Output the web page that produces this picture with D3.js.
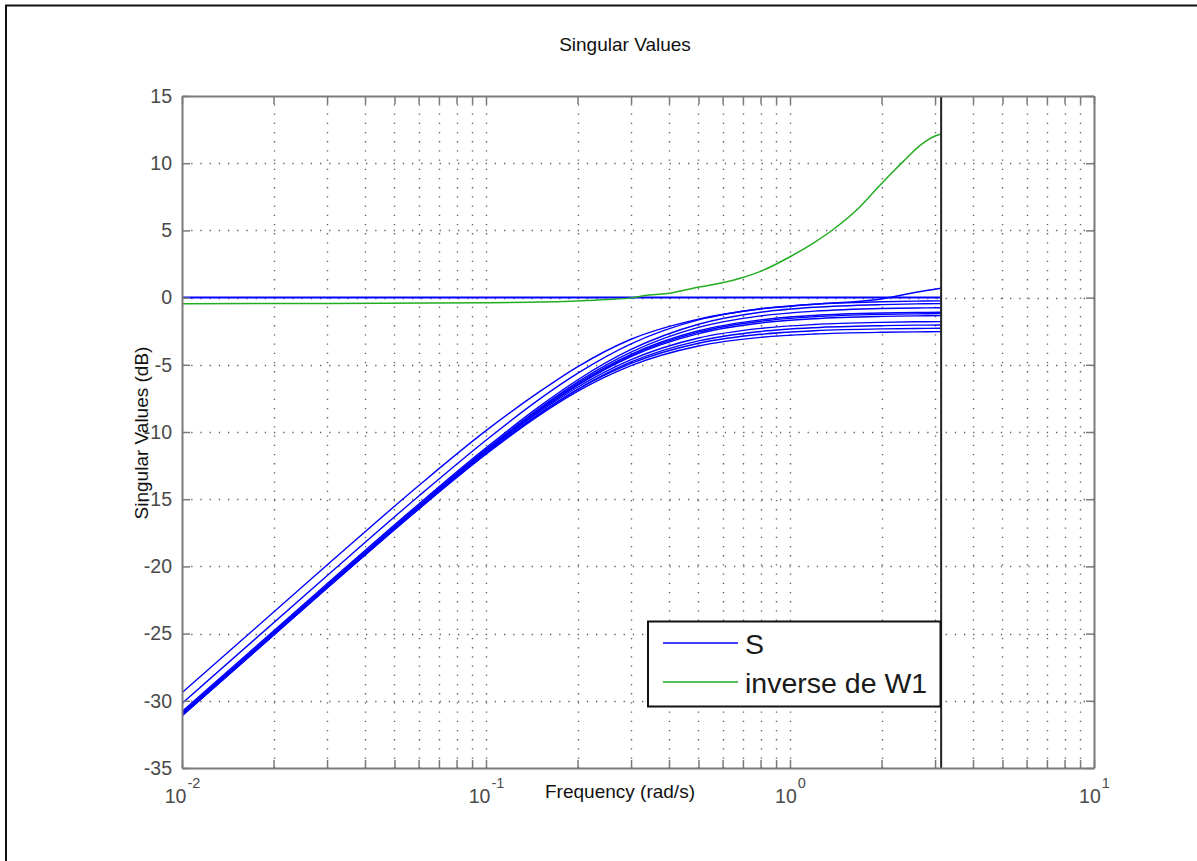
<!DOCTYPE html>
<html>
<head>
<meta charset="utf-8">
<script src="https://cdn.jsdelivr.net/npm/d3@7"></script>
<style>
  html, body { margin: 0; padding: 0; background: #fff; }
  svg { display: block; font-family: "Liberation Sans", Arial, Helvetica, sans-serif; }
</style>
</head>
<body>
<svg id="chart" width="1197" height="861"></svg>
<script>
// Frequency grid (rad/s) for the sensitivity singular values
const freqS = [0.01, 0.03, 0.06, 0.1, 0.15, 0.2, 0.3, 0.5, 0.8, 1.2, 2, 2.6, 3.1416];

// Singular values of S (dB), one array per curve
const sFlat = [0, 0, 0, 0, 0, 0, 0, 0, 0, 0, 0, 0, 0];
const s1  = [-29.4, -19.9, -14.0, -9.9, -7.0, -5.15, -3.1, -1.6, -0.85, -0.5, -0.1, 0.4, 0.7];
const s2  = [-30.2, -20.69, -14.78, -10.61, -7.55, -5.64, -3.44, -1.66, -0.83, -0.49, -0.31, -0.26, -0.24];
const s3  = [-30.8, -21.29, -15.37, -11.18, -8.09, -6.13, -3.86, -1.98, -1.09, -0.72, -0.52, -0.47, -0.45];
const s4  = [-30.92, -21.41, -15.5, -11.31, -8.23, -6.29, -4.06, -2.22, -1.36, -1.01, -0.81, -0.77, -0.75];
const s5  = [-30.91, -21.4, -15.5, -11.33, -8.29, -6.39, -4.22, -2.47, -1.66, -1.33, -1.15, -1.11, -1.09];
const s6  = [-31.01, -21.5, -15.6, -11.43, -8.39, -6.49, -4.32, -2.57, -1.76, -1.43, -1.25, -1.21, -1.19];
const s7  = [-31.0, -21.5, -15.6, -11.44, -8.42, -6.53, -4.39, -2.68, -1.89, -1.57, -1.4, -1.36, -1.34];
const s8  = [-31.0, -21.5, -15.62, -11.49, -8.51, -6.67, -4.62, -3.01, -2.29, -2.0, -1.84, -1.8, -1.79];
const s9  = [-31.1, -21.6, -15.72, -11.6, -8.64, -6.82, -4.79, -3.22, -2.52, -2.24, -2.09, -2.05, -2.04];
const s10 = [-31.1, -21.6, -15.72, -11.6, -8.65, -6.85, -4.9, -3.4, -2.73, -2.47, -2.33, -2.3, -2.28];
const s11 = [-31.1, -21.61, -15.74, -11.66, -8.75, -6.98, -5.06, -3.6, -2.96, -2.71, -2.58, -2.55, -2.53];
const sCurves = [sFlat, s1, s2, s3, s4, s5, s6, s7, s8, s9, s10, s11];

// Inverse of the performance weight W1
const freqW = [0.01, 0.03, 0.1, 0.2, 0.25, 0.3, 0.333, 0.394, 0.48, 0.589, 0.7, 0.796, 1.0, 1.19, 1.38, 1.7, 1.98, 2.21, 2.35, 2.74, 3.07, 3.1416];
const invW1 = [-0.45, -0.44, -0.38, -0.25, -0.15, -0.02, 0.15, 0.3, 0.7, 1.06, 1.5, 1.93, 3.04, 4.04, 5.03, 6.76, 8.38, 9.5, 10.1, 11.5, 12.1, 12.15];

const nyquist = 3.1416;

// Axis ticks
const yTicks = [15, 10, 5, 0, -5, -10, -15, -20, -25, -30, -35];
const xDecades = [0.01, 0.1, 1, 10];
const xExponents = ["-2", "-1", "0", "1"];
const legendLabels = ["S", "inverse de W1"];
const colors = { s: "#0000ff", w: "#22ad22" };

const svg = d3.select("#chart");
const L = 182, R = 1094, T = 96, B = 768;

const x = d3.scaleLog().domain([0.01, 10]).range([L, R]);
const y = d3.scaleLinear().domain([-35, 15]).range([B, T]);

// Minor tick positions on the log axis
const xMinor = [];
for (let d = 0; d < xDecades.length - 1; d++) {
  for (let k = 1; k <= 9; k++) xMinor.push(xDecades[d] * k);
}
xMinor.push(10);

// Outer figure frame
svg.append("path")
  .attr("d", "M6,861 L6,5.5 L1197,5.5")
  .attr("fill", "none").attr("stroke", "#111").attr("stroke-width", 2);

// Dotted grid
const grid = svg.append("g").attr("stroke", "#5f5f5f").attr("stroke-width", 1.4)
  .attr("stroke-dasharray", "1.3,7.9");
grid.selectAll("line.v").data(xMinor.filter(v => v > 0.01 && v < 10)).enter().append("line")
  .attr("x1", d => Math.round(x(d)) + 0.5).attr("x2", d => Math.round(x(d)) + 0.5)
  .attr("y1", B).attr("y2", T);
grid.selectAll("line.h").data(yTicks.filter(v => v > -35 && v < 15)).enter().append("line")
  .attr("y1", d => Math.round(y(d)) + 0.5).attr("y2", d => Math.round(y(d)) + 0.5)
  .attr("x1", L).attr("x2", R);

// Curves
svg.append("clipPath").attr("id", "plotclip").append("rect")
  .attr("x", L).attr("y", T).attr("width", R - L).attr("height", B - T);
const plot = svg.append("g").attr("clip-path", "url(#plotclip)");

const line = d3.line().x(d => x(d[0])).y(d => y(d[1])).curve(d3.curveMonotoneX);

plot.selectAll("path.s").data(sCurves).enter().append("path")
  .attr("class", "s")
  .attr("d", c => line(freqS.map((f, i) => [f, c[i]])))
  .attr("fill", "none").attr("stroke", colors.s)
  .attr("stroke-width", (c, i) => i === 0 ? 2 : 1.4);

plot.append("path")
  .attr("d", line(freqW.map((f, i) => [f, invW1[i]])))
  .attr("fill", "none").attr("stroke", colors.w).attr("stroke-width", 1.5);

// Nyquist frequency marker
svg.append("line")
  .attr("x1", x(nyquist)).attr("x2", x(nyquist)).attr("y1", T).attr("y2", B)
  .attr("stroke", "#222").attr("stroke-width", 2);

// Axes (ticks pointing inward)
const axisColor = "#7a7a7a";
const labelColor = "#4a4a4a";
function styleAxis(g) {
  g.select(".domain").attr("stroke", axisColor).attr("stroke-width", 2);
  g.selectAll(".tick line").attr("stroke", axisColor).attr("stroke-width", 1.5);
}

svg.append("g").attr("transform", `translate(${L},0)`)
  .call(d3.axisLeft(y).tickValues(yTicks).tickSize(-8).tickSizeOuter(0).tickPadding(10).tickFormat(d => String(d)))
  .call(styleAxis)
  .call(g => g.selectAll(".tick text").attr("fill", labelColor).attr("font-size", 19.5)
    .attr("font-family", "Liberation Sans, Arial, sans-serif"));

svg.append("g").attr("transform", `translate(${R},0)`)
  .call(d3.axisRight(y).tickValues(yTicks).tickSize(-8).tickSizeOuter(0).tickFormat(""))
  .call(styleAxis);

svg.append("g").attr("transform", `translate(0,${B})`)
  .call(d3.axisBottom(x).tickValues(xMinor).tickSize(-8).tickSizeOuter(0).tickFormat(""))
  .call(styleAxis);

svg.append("g").attr("transform", `translate(0,${T})`)
  .call(d3.axisTop(x).tickValues(xMinor).tickSize(-8).tickSizeOuter(0).tickFormat(""))
  .call(styleAxis);

// Decade labels 10^n
const xl = svg.append("g").attr("fill", labelColor);
xDecades.forEach((v, i) => {
  const g = xl.append("g");
  const base = g.append("text").attr("font-size", 19.5).attr("y", 803).text("10");
  const ex = g.append("text").attr("font-size", 14.5).attr("y", 788).text(xExponents[i]);
  const wb = base.node().getComputedTextLength();
  const we = ex.node().getComputedTextLength();
  const x0 = x(v) - (wb + we) / 2;
  base.attr("x", x0);
  ex.attr("x", x0 + wb + 1);
});

// Titles
svg.append("text").attr("x", 625).attr("y", 51).attr("text-anchor", "middle")
  .attr("font-size", 19).attr("fill", "#111").text("Singular Values");
svg.append("text").attr("x", 620).attr("y", 798).attr("text-anchor", "middle")
  .attr("font-size", 19).attr("fill", "#111").text("Frequency (rad/s)");
svg.append("text").attr("transform", "translate(148,433) rotate(-90)").attr("text-anchor", "middle")
  .attr("font-size", 19).attr("fill", "#111").text("Singular Values (dB)");

// Legend
const lg = svg.append("g");
lg.append("rect").attr("x", 648).attr("y", 621.5).attr("width", 292.5).attr("height", 85)
  .attr("fill", "#fff").attr("stroke", "#111").attr("stroke-width", 2);
const legendColors = [colors.s, colors.w];
legendLabels.forEach((t, i) => {
  const yy = 643 + i * 39;
  lg.append("line").attr("x1", 663).attr("x2", 738).attr("y1", yy).attr("y2", yy)
    .attr("stroke", legendColors[i]).attr("stroke-width", 1.5);
  lg.append("text").attr("x", 745).attr("y", yy + 11).attr("font-size", 28.5)
    .attr("fill", "#1a1a1a").text(t);
});
</script>
</body>
</html>
